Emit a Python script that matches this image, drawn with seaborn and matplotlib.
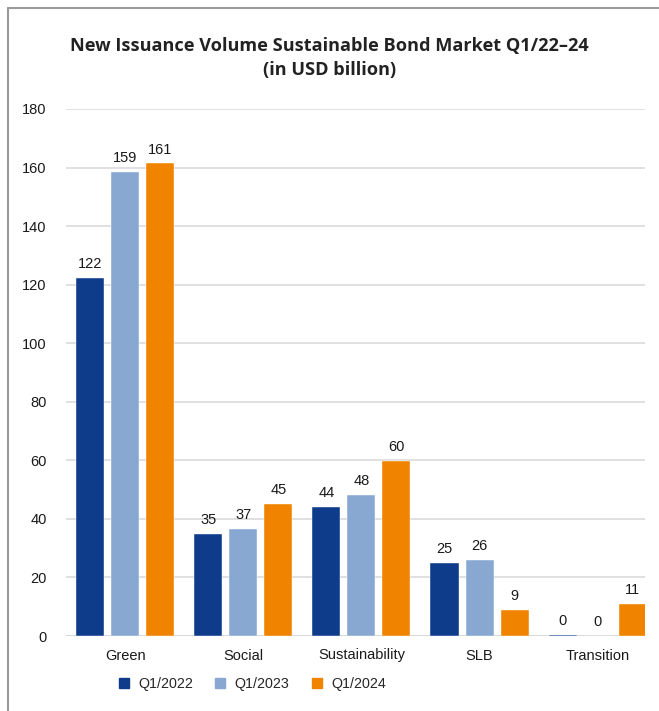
import matplotlib
matplotlib.use("Agg")
import matplotlib.pyplot as plt
from matplotlib.lines import Line2D
import pandas as pd
import seaborn as sns

categories = ["Green", "Social", "Sustainability", "SLB", "Transition"]
periods = ["Q1/2022", "Q1/2023", "Q1/2024"]
q1_2022 = [122.3, 34.8, 44.2, 25.1, 0.5]
q1_2023 = [158.6, 36.7, 48.1, 26.0, 0.0]
q1_2024 = [161.4, 45.1, 59.8, 8.8, 10.9]
y_ticks = [0, 20, 40, 60, 80, 100, 120, 140, 160, 180]
colors = ["#0F3C8A", "#88A8D2", "#F08300"]

rows = []
for period, vals in zip(periods, [q1_2022, q1_2023, q1_2024]):
    for cat, v in zip(categories, vals):
        rows.append({"category": cat, "period": period, "value": v})
df = pd.DataFrame(rows)

sns.set_theme(style="white")
plt.rcParams["font.family"] = ["Liberation Sans", "DejaVu Sans"]

W, H = 659, 711
fig = plt.figure(figsize=(W / 100, H / 100), dpi=100)
ax = fig.add_axes([66 / W, 1 - 636 / H, (645 - 66) / W, (636 - 109) / H])

sns.barplot(data=df, x="category", y="value", hue="period", order=categories,
            hue_order=periods, palette=colors, saturation=1, width=0.89, gap=0.2,
            edgecolor="#FFFFFF", linewidth=0.3, legend=False, ax=ax, zorder=3)

for container in ax.containers:
    ax.bar_label(container, labels=[f"{b.get_height():.0f}" for b in container],
                 padding=5, fontsize=10.5, color="#1a1a1a")

ax.set_ylim(0, 180)
ax.set_xlim(-0.5, 4.4)
ax.set_yticks(y_ticks)
ax.set_yticklabels([str(t) for t in y_ticks])
ax.yaxis.grid(True, color="#DADADA", linewidth=1.2)
ax.set_axisbelow(True)
for side in ["top", "right", "left", "bottom"]:
    ax.spines[side].set_visible(False)
ax.axhline(0, color="#D0D0D0", linewidth=1.4, zorder=0.5)
ax.tick_params(axis="y", length=0, pad=14, labelsize=10.5, labelcolor="#1a1a1a")
ax.tick_params(axis="x", length=0, pad=9, labelsize=10.5, labelcolor="#1a1a1a")
ax.set_xlabel("")
ax.set_ylabel("")

title_font = ["Open Sans", "DejaVu Sans"]
fig.text(329.5 / W, 1 - 46 / H, "New Issuance Volume Sustainable Bond Market Q1/22\u201324",
         ha="center", va="center", fontsize=13.1, fontweight="bold", color="#222222",
         family=title_font)
fig.text(329.5 / W, 1 - 70 / H, "(in USD billion)",
         ha="center", va="center", fontsize=13.1, fontweight="bold", color="#222222",
         family=title_font)

handles = [Line2D([], [], marker="s", linestyle="none", markersize=7,
                  markerfacecolor=c, markeredgecolor=c) for c in colors]
fig.legend(handles, periods, loc="center left", ncol=3, frameon=False,
           bbox_to_anchor=(104 / W, 1 - 684 / H), fontsize=10.3, handletextpad=0.5,
           columnspacing=1.4, handlelength=1.0)

# thin frame along the top and left edges
fig.add_artist(Line2D([8 / W, 1], [1 - 8 / H, 1 - 8 / H], color="#9A9A9A", linewidth=1.5,
                      transform=fig.transFigure))
fig.add_artist(Line2D([8 / W, 8 / W], [0, 1 - 8 / H], color="#9A9A9A", linewidth=1.5,
                      transform=fig.transFigure))

fig.savefig("out.png", dpi=100)
